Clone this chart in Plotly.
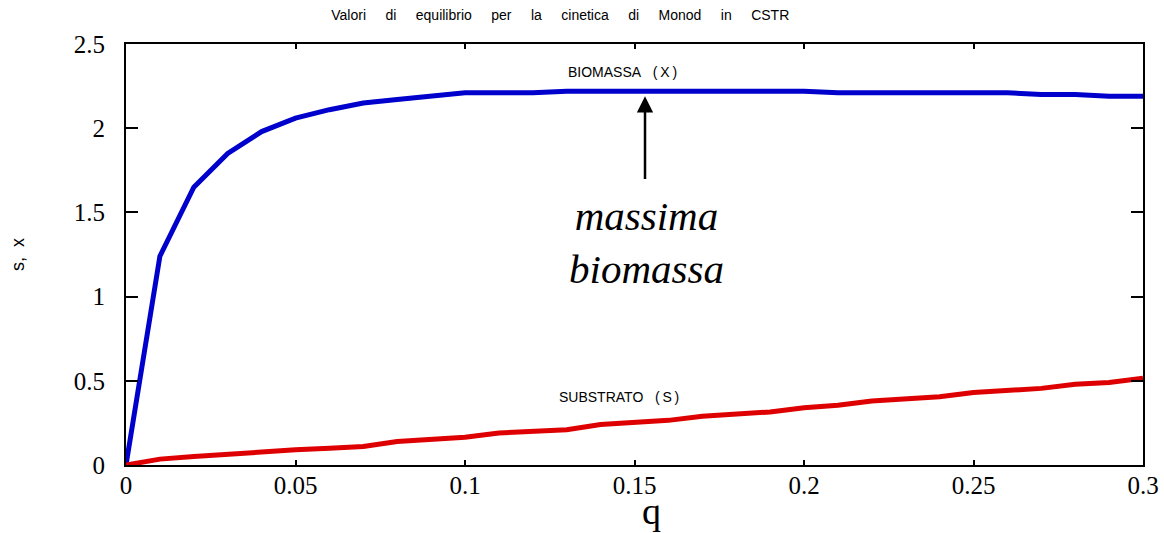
import plotly.graph_objects as go

# Dilution rate q (steps of 0.01)
q = [round(i * 0.01, 2) for i in range(31)]

# Equilibrium biomass X
biomassa = [0.0, 1.24, 1.65, 1.85, 1.98, 2.06, 2.11, 2.15, 2.17, 2.19, 2.21,
            2.21, 2.21, 2.22, 2.22, 2.22, 2.22, 2.22, 2.22, 2.22, 2.22,
            2.21, 2.21, 2.21, 2.21, 2.21, 2.21, 2.20, 2.20, 2.19, 2.19]

# Equilibrium substrate S
substrato = [0.0, 0.035, 0.05, 0.065, 0.08, 0.09, 0.10, 0.11, 0.14, 0.155, 0.165,
             0.19, 0.20, 0.21, 0.24, 0.25, 0.265, 0.29, 0.30, 0.315, 0.34,
             0.355, 0.38, 0.39, 0.405, 0.43, 0.445, 0.455, 0.48, 0.49, 0.515]

x_ticks = [0, 0.05, 0.1, 0.15, 0.2, 0.25, 0.3]
x_ticktext = ["0", "0.05", "0.1", "0.15", "0.2", "0.25", "0.3"]
y_ticks = [0, 0.5, 1, 1.5, 2, 2.5]
y_ticktext = ["0", "0.5", "1", "1.5", "2", "2.5"]

serif = "Liberation Serif, Times New Roman, serif"
sans = "Liberation Sans, Arial, sans-serif"
nb = "\u00a0"
th = "\u2009"

fig = go.Figure()
fig.add_trace(go.Scatter(x=q, y=biomassa, mode="lines",
                         line=dict(color="rgb(0,0,205)", width=5), showlegend=False))
fig.add_trace(go.Scatter(x=q, y=substrato, mode="lines",
                         line=dict(color="rgb(222,0,0)", width=5), showlegend=False))

axis_common = dict(showline=True, linecolor="black", linewidth=2, mirror="ticks",
                   ticks="inside", tickcolor="black", tickwidth=2,
                   showgrid=False, zeroline=False, automargin=False,
                   tickfont=dict(family=serif, size=25, color="black"))

fig.update_xaxes(range=[0, 0.3], tickvals=x_ticks, ticktext=x_ticktext, ticklen=5,
                 ticklabelstandoff=-3, **axis_common)
fig.update_yaxes(range=[0, 2.5], tickvals=y_ticks, ticktext=y_ticktext, ticklen=12,
                 ticklabelstandoff=14,
                 title=dict(text="s," + nb * 2 + "x", font=dict(family=sans, size=18, color="black"),
                            standoff=44),
                 **axis_common)

title_words = ["Valori", "di", "equilibrio", "per", "la", "cinetica", "di", "Monod", "in", "CSTR"]
fig.update_layout(
    width=1164, height=533,
    margin=dict(l=126, r=21, t=44, b=68, autoexpand=False),
    paper_bgcolor="white", plot_bgcolor="white",
    title=dict(text=(nb * 5).join(title_words), x=0.427, xanchor="center",
               xref="paper", y=0.972, yanchor="middle",
               font=dict(family=sans, size=14, color="black")),
)

# x-axis title sitting on the bottom edge of the page
fig.add_annotation(x=0.517, y=-0.1605, xref="paper", yref="paper", text="q",
                   showarrow=False, xanchor="center", yanchor="bottom", borderpad=0,
                   font=dict(family=serif, size=38, color="black"))

fig.add_annotation(x=0.1465, y=2.335,
                   text="BIOMASSA" + nb * 3 + "(" + th + "X" + th + ")", showarrow=False,
                   font=dict(family=sans, size=14, color="black"))
fig.add_annotation(x=0.1455, y=0.405,
                   text="SUBSTRATO" + nb * 3 + "(" + th + "S" + th + ")", showarrow=False,
                   font=dict(family=sans, size=14, color="black"))
fig.add_annotation(x=0.1535, y=1.32, text="<i>massima<br>biomassa</i>", showarrow=False,
                   font=dict(family=serif, size=41, color="black"))
fig.add_annotation(x=0.1531, y=2.19, ax=0.1531, ay=1.69, xref="x", yref="y",
                   axref="x", ayref="y", text="", showarrow=True,
                   arrowhead=2, arrowsize=1.3, arrowwidth=2.5, arrowcolor="black")

fig.write_html("out.html")
